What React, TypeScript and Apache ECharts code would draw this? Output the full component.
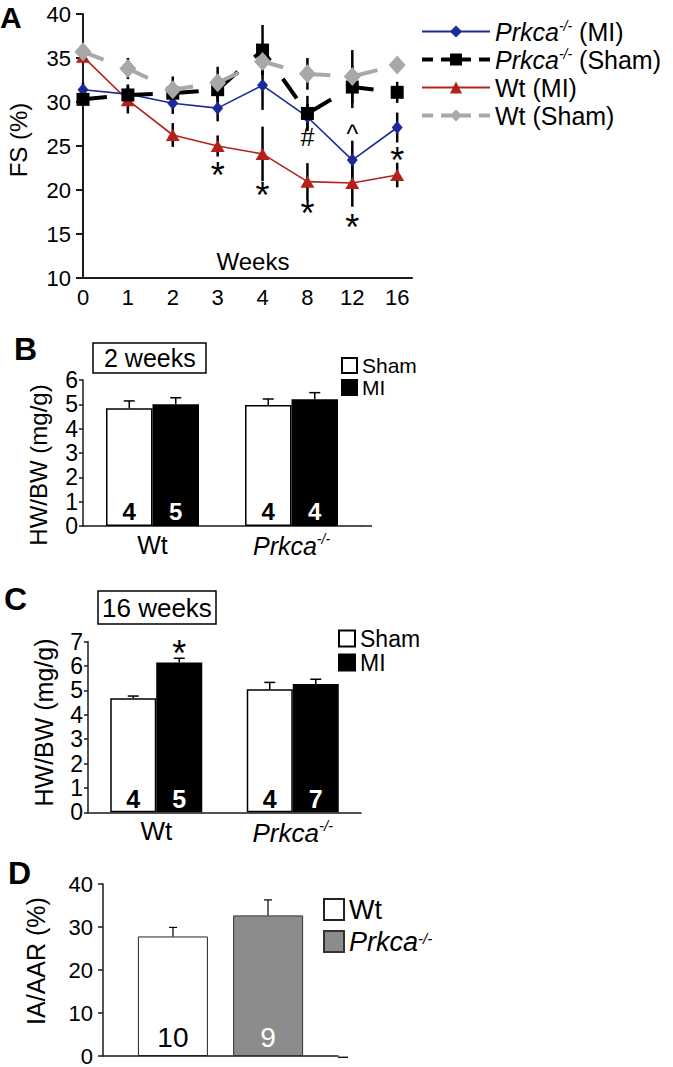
import React, { useEffect, useRef } from 'react';
import * as echarts from 'echarts';

const FONT = '"Liberation Sans", Arial, Helvetica, sans-serif';

// ---------- Panel A : FS (%) over weeks ----------
const weeks = ['0', '1', '2', '3', '4', '8', '12', '16'];
const prkcaMI = [31.4, 30.9, 29.85, 29.3, 31.9, 28.3, 23.4, 27.1];
const prkcaMIErr = [0.8, 1.0, 1.2, 1.5, 2.8, 1.5, 2.2, 1.7];
const prkcaSham = [30.3, 30.8, 31.0, 31.4, 35.9, 28.7, 31.7, 31.1];
const prkcaShamErr = [0.7, 1.2, 1.2, 1.4, 2.85, 2.0, 2.4, 1.2];
const wtMI = [35.15, 30.2, 26.25, 25.0, 24.1, 20.95, 20.8, 21.7];
const wtMIErr = [0.5, 1.5, 1.35, 1.2, 3.1, 2.1, 2.7, 1.4];
const wtSham = [35.7, 33.8, 31.4, 32.2, 34.6, 33.2, 32.9, 34.2];
const wtShamErr = [0.6, 1.2, 1.5, 1.8, 1.5, 1.8, 3.0, 0.8];
const markWeek = [3, 4, 5, 6, 7, 5, 6];
const markValue = [22.7, 20.4, 18.3, 16.8, 24.35, 26.05, 26.8];
const markText = ['*', '*', '*', '*', '*', '#', '^'];

// ---------- Panel B : HW/BW at 2 weeks ----------
const genotypes = ['Wt', 'Prkca-/-'];
const b2Sham = [4.84, 4.97];
const b2ShamErr = [0.3, 0.25];
const b2MI = [5.0, 5.21];
const b2MIErr = [0.27, 0.27];
const b2ShamN = [4, 4];
const b2MIN = [5, 4];

// ---------- Panel C : HW/BW at 16 weeks ----------
const c16Sham = [4.68, 5.05];
const c16ShamErr = [0.09, 0.28];
const c16MI = [6.15, 5.26];
const c16MIErr = [0.17, 0.2];
const c16ShamN = [4, 4];
const c16MIN = [5, 7];
const c16MISig = ['*', ''];

// ---------- Panel D : IA/AAR (%) ----------
const dGroups = ['Wt', 'Prkca-/-'];
const dValues = [27.8, 32.7];
const dErr = [2.1, 3.6];
const dN = [10, 9];

const prk = (s: string) => s.replace('Prkca-/-', '{i|Prkca}{s|-/-}');

const richFor = (size: number, lh: number) => ({
  i: { fontStyle: 'italic', fontSize: size, fontFamily: FONT, color: '#000', lineHeight: lh },
  s: { fontStyle: 'italic', fontSize: Math.round(size * 0.56), fontFamily: FONT, color: '#000', verticalAlign: 'top', lineHeight: Math.round(size * 0.56) },
});

const axisLine = (w: number) => ({ show: true, lineStyle: { color: '#1a1a1a', width: w } });

function barErr(idx: number, values: number[], errs: number[], side: number, halfW: number, capW: number, lw: number, sig?: string[]) {
  return {
    type: 'custom',
    xAxisIndex: idx,
    yAxisIndex: idx,
    z: 5,
    silent: true,
    data: values.map((v, i) => [i, v, errs[i]]),
    renderItem: (params: any, api: any) => {
      const i = api.value(0);
      const v = api.value(1);
      const e = api.value(2);
      const p0 = api.coord([i, v]);
      const p1 = api.coord([i, v + e]);
      const x = p0[0] + side * halfW;
      const children: any[] = [
        { type: 'line', shape: { x1: x, y1: p0[1], x2: x, y2: p1[1] }, style: { stroke: '#000', lineWidth: lw } },
        { type: 'line', shape: { x1: x - capW / 2, y1: p1[1], x2: x + capW / 2, y2: p1[1] }, style: { stroke: '#000', lineWidth: lw } },
      ];
      const t = sig ? sig[params.dataIndex] : '';
      if (t) {
        children.push({ type: 'text', x, y: p1[1] - 5, style: { text: t, font: `36px ${FONT}`, fill: '#000', align: 'center', verticalAlign: 'middle' } });
      }
      return { type: 'group', children };
    },
  };
}

function buildOption() {
  const lineSeries = [
    { name: 'Wt (MI)', data: wtMI, color: '#b3221a', symbol: 'triangle', size: [14, 12], lw: 1.6, dash: 'solid' as any },
    { name: 'Prkca-/- (MI)', data: prkcaMI, color: '#1b2a98', symbol: 'diamond', size: [11, 13], lw: 1.6, dash: 'solid' as any },
    { name: 'Prkca-/- (Sham)', data: prkcaSham, color: '#000000', symbol: 'rect', size: 13, lw: 4, dash: [24, 22] },
    { name: 'Wt (Sham)', data: wtSham, color: '#a8a8a8', symbol: 'diamond', size: [17, 19], lw: 4, dash: [22, 26] },
  ].map((s) => ({
    type: 'line',
    name: s.name,
    xAxisIndex: 0,
    yAxisIndex: 0,
    z: 3,
    data: s.data.map((v, i) => [i, v]),
    symbol: s.symbol,
    symbolSize: s.size,
    showSymbol: true,
    itemStyle: { color: s.color },
    lineStyle: { color: s.color, width: s.lw, type: s.dash },
  }));

  const allErr: number[][] = [];
  [
    [prkcaMI, prkcaMIErr],
    [prkcaSham, prkcaShamErr],
    [wtMI, wtMIErr],
    [wtSham, wtShamErr],
  ].forEach(([vals, errs]) => vals.forEach((v, i) => allErr.push([i, v, errs[i]])));

  const errA = {
    type: 'custom',
    xAxisIndex: 0,
    yAxisIndex: 0,
    z: 1,
    silent: true,
    data: allErr,
    renderItem: (params: any, api: any) => {
      const i = api.value(0);
      const v = api.value(1);
      const e = api.value(2);
      const a = api.coord([i, v - e]);
      const b = api.coord([i, v + e]);
      return { type: 'line', shape: { x1: a[0], y1: a[1], x2: b[0], y2: b[1] }, style: { stroke: '#000', lineWidth: 2.5 } };
    },
  };

  const marksA = {
    type: 'custom',
    xAxisIndex: 0,
    yAxisIndex: 0,
    z: 6,
    silent: true,
    data: markWeek.map((w, k) => [w, markValue[k]]),
    renderItem: (params: any, api: any) => {
      const p = api.coord([api.value(0), api.value(1)]);
      const t = markText[params.dataIndex];
      const dy = t === '*' ? 9 : t === '^' ? 4 : 0;
      const size = t === '*' ? 36 : 25;
      return { type: 'text', x: p[0], y: p[1] + dy, style: { text: t, font: `${size}px ${FONT}`, fill: '#000', align: 'center', verticalAlign: 'middle' } };
    },
  };

  const countLabel = (counts: number[], color: string, size: number, weight: string, dist: number) => ({
    show: true,
    position: 'insideBottom',
    distance: dist,
    formatter: (p: any) => String(counts[p.dataIndex]),
    color,
    fontSize: size,
    fontWeight: weight,
    fontFamily: FONT,
  });

  const BW_B = 46.5;
  const BW_C = 46;
  const BW_D = 70;

  const catAxisLabel = (size: number, margin: number) => ({
    fontSize: size,
    fontFamily: FONT,
    color: '#000',
    margin,
    interval: 0,
    hideOverlap: false,
    formatter: (v: string) => prk(v),
    rich: richFor(size, size + 3),
  });

  const valLabel = (size: number, margin: number) => ({
    fontSize: size,
    fontFamily: FONT,
    color: '#000',
    margin,
    lineHeight: 18,
    interval: 0,
    showMinLabel: true,
    showMaxLabel: true,
    hideOverlap: false,
  });

  return {
    animation: false,
    backgroundColor: '#ffffff',
    textStyle: { fontFamily: FONT },
    title: [
      { text: 'A', left: 0, top: 2, padding: 0, textStyle: { fontSize: 30, fontWeight: 'bold', fontFamily: FONT, color: '#000' } },
      { text: 'B', left: 14, top: 333, padding: 0, textStyle: { fontSize: 32, fontWeight: 'bold', fontFamily: FONT, color: '#000' } },
      { text: 'C', left: 4, top: 583, padding: 0, textStyle: { fontSize: 32, fontWeight: 'bold', fontFamily: FONT, color: '#000' } },
      { text: 'D', left: 8, top: 857, padding: 0, textStyle: { fontSize: 32, fontWeight: 'bold', fontFamily: FONT, color: '#000' } },
      {
        text: '2 weeks', left: 93, top: 343, padding: [1, 11, 1, 11], borderColor: '#000', borderWidth: 1.5,
        textStyle: { fontSize: 25, lineHeight: 28, fontWeight: 'normal', fontFamily: FONT, color: '#000' },
      },
      {
        text: '16 weeks', left: 98, top: 591, padding: [1, 4, 1, 4], borderColor: '#000', borderWidth: 1.5,
        textStyle: { fontSize: 26, lineHeight: 31, fontWeight: 'normal', fontFamily: FONT, color: '#000' },
      },
    ],
    legend: [
      {
        orient: 'vertical', left: 420, top: 19, padding: 0, itemWidth: 68, itemHeight: 15, itemGap: 3, selectedMode: false,
        data: [
          { name: 'Prkca-/- (MI)' },
          { name: 'Prkca-/- (Sham)', lineStyle: { type: [11, 8], width: 4 } },
          { name: 'Wt (MI)' },
          { name: 'Wt (Sham)', lineStyle: { type: [11, 8], width: 4 } },
        ],
        formatter: (n: string) => prk(n),
        textStyle: { fontSize: 25, lineHeight: 25, fontFamily: FONT, color: '#000', rich: richFor(25, 25) },
      },
      {
        orient: 'vertical', left: 341, top: 355, padding: 0, itemWidth: 15, itemHeight: 15, itemGap: 1, selectedMode: false, icon: 'rect',
        data: ['Sham', 'MI'],
        textStyle: { fontSize: 21, lineHeight: 19, fontFamily: FONT, color: '#000' },
      },
      {
        orient: 'vertical', left: 338, top: 627, padding: 0, itemWidth: 16, itemHeight: 16, itemGap: 1, selectedMode: false, icon: 'rect',
        data: ['Sham', 'MI'],
        textStyle: { fontSize: 23, lineHeight: 21, fontFamily: FONT, color: '#000' },
      },
      {
        orient: 'vertical', left: 323, top: 896, padding: 0, itemWidth: 20, itemHeight: 21, itemGap: 5, selectedMode: false, icon: 'rect',
        data: dGroups,
        formatter: (n: string) => prk(n),
        textStyle: { fontSize: 27, lineHeight: 21, fontFamily: FONT, color: '#000', rich: richFor(27, 21) },
      },
    ],
    grid: [
      { left: 83, top: 14, width: 329, height: 264 },
      { left: 83, top: 380, width: 278, height: 146 },
      { left: 88, top: 641.7, width: 273, height: 170.6 },
      { left: 103, top: 884, width: 235, height: 173.3 },
    ],
    xAxis: [
      {
        gridIndex: 0, type: 'value', min: 0, max: 7.33, interval: 1,
        axisLine: axisLine(2), axisTick: { show: false }, splitLine: { show: false },
        axisLabel: {
          fontSize: 22, fontFamily: FONT, color: '#000', margin: 8,
          formatter: (v: number) => (Math.abs(v - Math.round(v)) < 1e-6 && weeks[Math.round(v)] !== undefined ? weeks[Math.round(v)] : ''),
        },
        name: 'Weeks', nameLocation: 'middle', nameGap: -29,
        nameTextStyle: { fontSize: 24, fontFamily: FONT, color: '#000', padding: [0, 0, 0, 11] },
      },
      {
        gridIndex: 1, type: 'category', data: genotypes,
        axisLine: axisLine(1.5), axisTick: { show: false }, axisLabel: catAxisLabel(25, 6),
      },
      {
        gridIndex: 2, type: 'category', data: genotypes,
        axisLine: axisLine(1.5), axisTick: { show: false }, axisLabel: catAxisLabel(26, 6),
      },
      {
        gridIndex: 3, type: 'category', data: [''],
        axisLine: axisLine(1.5), axisTick: { show: false }, axisLabel: { show: false },
      },
    ],
    yAxis: [
      {
        gridIndex: 0, type: 'value', min: 10, max: 40, interval: 5,
        axisLine: axisLine(2), axisTick: { show: true, length: 7, lineStyle: { width: 2, color: '#1a1a1a' } }, splitLine: { show: false },
        axisLabel: valLabel(22, 12),
        name: 'FS (%)', nameLocation: 'middle', nameGap: 53,
        nameTextStyle: { fontSize: 24, fontFamily: FONT, color: '#000', padding: [0, 0, 0, 12] },
      },
      {
        gridIndex: 1, type: 'value', min: 0, max: 6, interval: 1,
        axisLine: axisLine(1.5), axisTick: { show: true, length: 4, lineStyle: { width: 1.5, color: '#1a1a1a' } }, splitLine: { show: false },
        axisLabel: valLabel(23, 5),
        name: 'HW/BW (mg/g)', nameLocation: 'middle', nameGap: 33,
        nameTextStyle: { fontSize: 24, fontFamily: FONT, color: '#000', padding: [0, 24, 0, 0] },
      },
      {
        gridIndex: 2, type: 'value', min: 0, max: 7, interval: 1,
        axisLine: axisLine(1.5), axisTick: { show: true, length: 4, lineStyle: { width: 1.5, color: '#1a1a1a' } }, splitLine: { show: false },
        axisLabel: valLabel(23, 5),
        name: 'HW/BW (mg/g)', nameLocation: 'middle', nameGap: 32,
        nameTextStyle: { fontSize: 25, fontFamily: FONT, color: '#000', padding: [0, 0, 0, 9] },
      },
      {
        gridIndex: 3, type: 'value', min: 0, max: 40, interval: 10,
        axisLine: axisLine(1.5), axisTick: { show: true, length: 5, lineStyle: { width: 1.5, color: '#1a1a1a' } }, splitLine: { show: false },
        axisLabel: valLabel(22, 10),
        name: 'IA/AAR (%)', nameLocation: 'middle', nameGap: 55,
        nameTextStyle: { fontSize: 25, fontFamily: FONT, color: '#000', padding: [0, 0, 0, 18] },
      },
    ],
    graphic: [
      { type: 'line', shape: { x1: 361, y1: 526, x2: 372, y2: 526 }, style: { stroke: '#1a1a1a', lineWidth: 1.5 } },
      { type: 'line', shape: { x1: 338, y1: 1057.3, x2: 348, y2: 1057.3 }, style: { stroke: '#1a1a1a', lineWidth: 1.5 } },
    ],
    series: [
      errA,
      ...lineSeries,
      marksA,
      // Panel B
      {
        type: 'bar', name: 'Sham', xAxisIndex: 1, yAxisIndex: 1, data: b2Sham, barWidth: BW_B, barGap: '0%',
        itemStyle: { color: '#ffffff', borderColor: '#000', borderWidth: 1.5 },
        label: countLabel(b2ShamN, '#000', 24, 'bold', 3),
      },
      {
        type: 'bar', name: 'MI', xAxisIndex: 1, yAxisIndex: 1, data: b2MI, barWidth: BW_B, barGap: '0%',
        itemStyle: { color: '#000000', borderColor: '#000', borderWidth: 1.5 },
        label: countLabel(b2MIN, '#fff', 24, 'bold', 3),
      },
      barErr(1, b2Sham, b2ShamErr, -1, BW_B / 2, 11, 1.5),
      barErr(1, b2MI, b2MIErr, 1, BW_B / 2, 11, 1.5),
      // Panel C
      {
        type: 'bar', name: 'Sham', xAxisIndex: 2, yAxisIndex: 2, data: c16Sham, barWidth: BW_C, barGap: '0%',
        itemStyle: { color: '#ffffff', borderColor: '#000', borderWidth: 1.5 },
        label: countLabel(c16ShamN, '#000', 25, 'bold', 1),
      },
      {
        type: 'bar', name: 'MI', xAxisIndex: 2, yAxisIndex: 2, data: c16MI, barWidth: BW_C, barGap: '0%',
        itemStyle: { color: '#000000', borderColor: '#000', borderWidth: 1.5 },
        label: countLabel(c16MIN, '#fff', 25, 'bold', 1),
      },
      barErr(2, c16Sham, c16ShamErr, -1, BW_C / 2, 11, 1.5),
      barErr(2, c16MI, c16MIErr, 1, BW_C / 2, 11, 1.5, c16MISig),
      // Panel D
      {
        type: 'bar', name: dGroups[0], xAxisIndex: 3, yAxisIndex: 3, data: [dValues[0]], barWidth: BW_D, barGap: '36%',
        itemStyle: { color: '#ffffff', borderColor: '#222', borderWidth: 1 },
        label: countLabel([dN[0]], '#000', 28, 'normal', 5),
      },
      {
        type: 'bar', name: dGroups[1], xAxisIndex: 3, yAxisIndex: 3, data: [dValues[1]], barWidth: BW_D, barGap: '36%',
        itemStyle: { color: '#8c8c8c', borderColor: '#333', borderWidth: 1 },
        label: countLabel([dN[1]], '#fff', 28, 'normal', 5),
      },
      barErr(3, [dValues[0]], [dErr[0]], -1, (BW_D + 25) / 2, 8, 1.2),
      barErr(3, [dValues[1]], [dErr[1]], 1, (BW_D + 25) / 2, 8, 1.2),
    ],
  };
}

export default function App() {
  const ref = useRef<HTMLDivElement>(null);
  useEffect(() => {
    if (!ref.current) return;
    const chart = echarts.init(ref.current, null, { renderer: 'svg' });
    chart.setOption(buildOption() as any);
    return () => chart.dispose();
  }, []);
  return (
    <div
      ref={ref}
      style={{ position: 'absolute', left: 0, top: 0, width: 673, height: 1067, background: '#fff' }}
    />
  );
}
